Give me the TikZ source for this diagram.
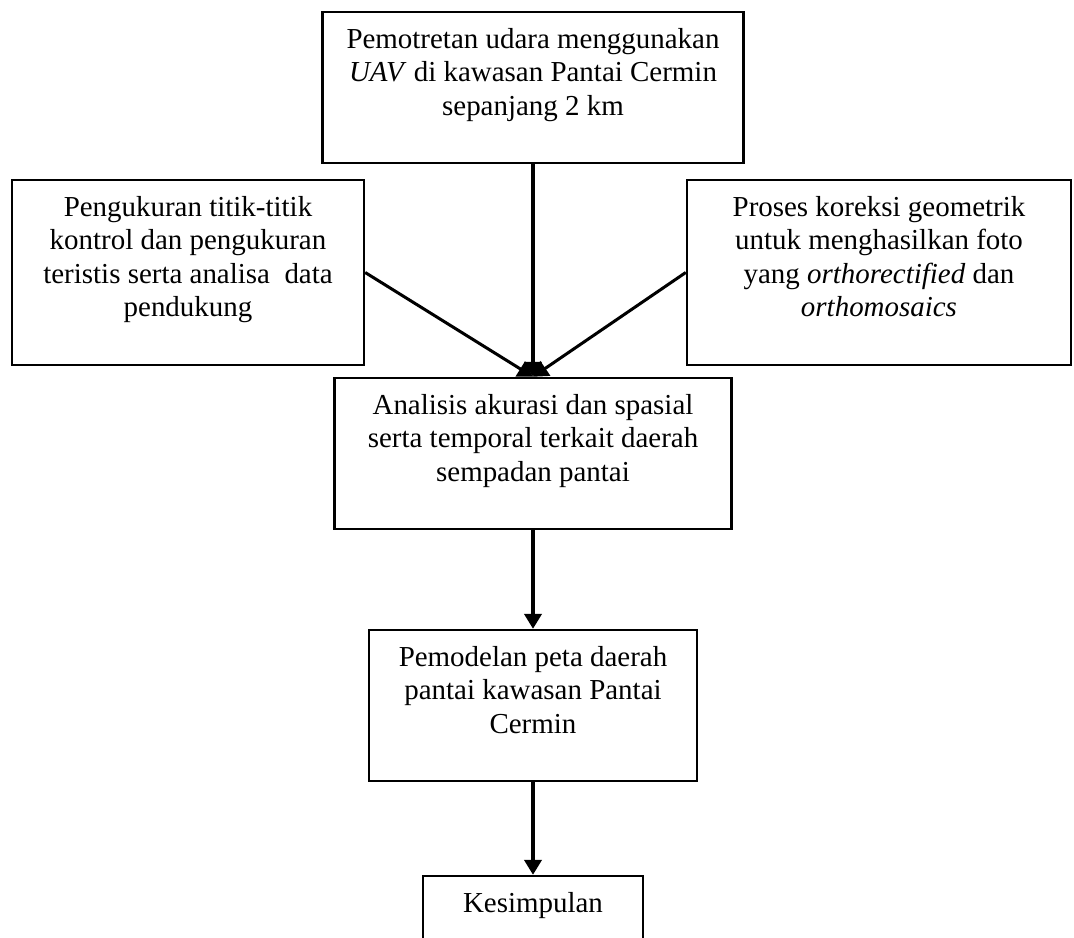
\documentclass[tikz,border=0pt]{standalone}
\usepackage{fontspec}
\setmainfont{Liberation Serif}
\usepackage{tikz}
\usetikzlibrary{arrows.meta}
\usetikzlibrary{positioning}

\begin{document}
\begin{tikzpicture}[x=0.4145pt,y=-0.4145pt,
	kotak/.style={draw,rectangle,line width=1pt,inner sep=0pt},
	isi/.style={align=center,inner sep=0pt,font=\fontsize{12}{13.8}\selectfont},
	panah/.style={-{Triangle[width=7.2pt,length=6.2pt]},line width=1.25pt}]
	\useasboundingbox (0,0) rectangle (1074,938);
	\clip (0,0) rectangle (1074,938);

	\node[kotak,minimum width=174.5pt,minimum height=62.6pt](foto) at (533,87.5) {};
	\node[kotak,minimum width=145.9pt,minimum height=76.7pt](ukur) at (188,272.5) {};
	\node[kotak,minimum width=159.2pt,minimum height=76.7pt](koreksi) at (879,272.5) {};
	\node[kotak,minimum width=164.6pt,minimum height=62.6pt](analisis) at (533,453.5) {};
	\node[kotak,minimum width=136pt,minimum height=62.6pt](model) at (533,705.5) {};
	\node[kotak,minimum width=91.2pt,minimum height=62.6pt](simpul) at (533,951.5) {};

	\node[isi,below=5.8pt of foto.north](tfoto) {\strut Pemotretan udara menggunakan\\ \textit{UAV} di kawasan Pantai Cermin\\ sepanjang 2 km};
	\node[isi,below=5.8pt of ukur.north](tukur) {\strut Pengukuran titik-titik\\ kontrol dan pengukuran\\ teristis serta analisa~ data\\ pendukung};
	\node[isi,below=5.8pt of koreksi.north](tkoreksi) {\strut Proses koreksi geometrik\\ untuk menghasilkan foto\\ yang \textit{orthorectified} dan\\ \textit{orthomosaics}};
	\node[isi,below=5.8pt of analisis.north](tanalisis) {\strut Analisis akurasi dan spasial\\ serta temporal terkait daerah\\ sempadan pantai};
	\node[isi,below=5.8pt of model.north](tmodel) {\strut Pemodelan peta daerah\\ pantai kawasan Pantai\\ Cermin};
	\node[isi,below=5.8pt of simpul.north](tsimpul) {\strut Kesimpulan};

	\draw[panah] (foto) -- (analisis);
	\draw[panah] (ukur.east) -- (analisis.north);
	\draw[panah] (koreksi.west) -- (analisis.north);
	\draw[panah] (analisis) -- (model);
	\draw[panah] (model) -- (simpul);
\end{tikzpicture}
\end{document}
